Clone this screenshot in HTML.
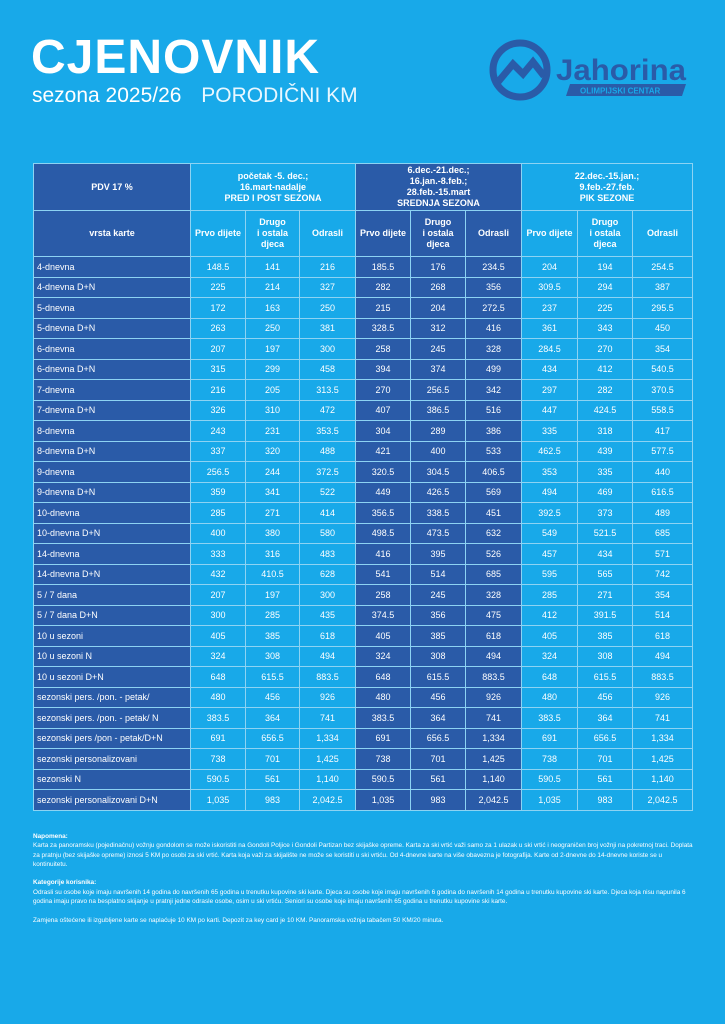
<!DOCTYPE html>
<html><head><meta charset="utf-8"><style>
body{margin:0;width:725px;height:1024px;background:#18a9e9;font-family:"Liberation Sans",sans-serif;color:#fff;position:relative;overflow:hidden}
.t{position:absolute;left:31px;top:32px;font-size:48px;font-weight:bold;letter-spacing:1px;line-height:52px}
.s{position:absolute;left:32px;top:84px;font-size:21px;line-height:24px}
.s span{margin-left:14px;font-weight:300;color:#e8f7ff}
table{position:absolute;left:33px;top:163px;border-collapse:collapse;table-layout:fixed;font-size:9px}
td{border:1px solid #8dd3f3;text-align:center;padding:0;height:19.5px}
td.l{text-align:left;padding-left:3px}
.d{background:#2a5ba8}
.h td{font-weight:bold;line-height:11px}
.n{position:absolute;left:33px;top:832px;width:665px;font-size:6.4px;line-height:9.3px}
</style></head><body>
<div class="t">CJENOVNIK</div>
<div class="s">sezona 2025/26 <span>PORODIČNI KM</span></div>
<svg style="position:absolute;left:488px;top:38px" width="205" height="66" viewBox="0 0 205 66">
<circle cx="32" cy="32" r="27" fill="none" stroke="#2a5ba8" stroke-width="7"/>
<path d="M10 44 L25 26 L35 36 L45 24 L56 38" fill="none" stroke="#2a5ba8" stroke-width="7"/>
<text x="68" y="42" font-family="Liberation Sans" font-weight="bold" font-size="30" fill="#2a5ba8" textLength="130" lengthAdjust="spacingAndGlyphs">Jahorina</text>
<polygon points="82,46 198,46 194,58 78,58" fill="#2a5ba8"/>
<text x="92" y="55.5" font-family="Liberation Sans" font-weight="bold" font-size="8" fill="#18a9e9">OLIMPIJSKI CENTAR</text>
</svg>
<table>
<colgroup><col style="width:157px"><col style="width:55px"><col style="width:54px"><col style="width:56px"><col style="width:55px"><col style="width:55px"><col style="width:56px"><col style="width:56px"><col style="width:55px"><col style="width:60px"></colgroup>
<tr class="h" style="height:47px"><td class="d">PDV 17 %</td><td colspan="3">početak -5. dec.;<br>16.mart-nadalje<br>PRED I POST SEZONA</td><td colspan="3" class="d">6.dec.-21.dec.;<br>16.jan.-8.feb.;<br>28.feb.-15.mart<br>SREDNJA SEZONA</td><td colspan="3">22.dec.-15.jan.;<br>9.feb.-27.feb.<br>PIK SEZONE</td></tr>
<tr class="h" style="height:46px"><td class="d">vrsta karte</td><td>Prvo dijete</td><td>Drugo<br>i ostala<br>djeca</td><td>Odrasli</td><td class="d">Prvo dijete</td><td class="d">Drugo<br>i ostala<br>djeca</td><td class="d">Odrasli</td><td>Prvo dijete</td><td>Drugo<br>i ostala<br>djeca</td><td>Odrasli</td></tr>
<tr><td class="l d">4-dnevna</td><td>148.5</td><td>141</td><td>216</td><td class="d">185.5</td><td class="d">176</td><td class="d">234.5</td><td>204</td><td>194</td><td>254.5</td></tr>
<tr><td class="l d">4-dnevna D+N</td><td>225</td><td>214</td><td>327</td><td class="d">282</td><td class="d">268</td><td class="d">356</td><td>309.5</td><td>294</td><td>387</td></tr>
<tr><td class="l d">5-dnevna</td><td>172</td><td>163</td><td>250</td><td class="d">215</td><td class="d">204</td><td class="d">272.5</td><td>237</td><td>225</td><td>295.5</td></tr>
<tr><td class="l d">5-dnevna D+N</td><td>263</td><td>250</td><td>381</td><td class="d">328.5</td><td class="d">312</td><td class="d">416</td><td>361</td><td>343</td><td>450</td></tr>
<tr><td class="l d">6-dnevna</td><td>207</td><td>197</td><td>300</td><td class="d">258</td><td class="d">245</td><td class="d">328</td><td>284.5</td><td>270</td><td>354</td></tr>
<tr><td class="l d">6-dnevna D+N</td><td>315</td><td>299</td><td>458</td><td class="d">394</td><td class="d">374</td><td class="d">499</td><td>434</td><td>412</td><td>540.5</td></tr>
<tr><td class="l d">7-dnevna</td><td>216</td><td>205</td><td>313.5</td><td class="d">270</td><td class="d">256.5</td><td class="d">342</td><td>297</td><td>282</td><td>370.5</td></tr>
<tr><td class="l d">7-dnevna D+N</td><td>326</td><td>310</td><td>472</td><td class="d">407</td><td class="d">386.5</td><td class="d">516</td><td>447</td><td>424.5</td><td>558.5</td></tr>
<tr><td class="l d">8-dnevna</td><td>243</td><td>231</td><td>353.5</td><td class="d">304</td><td class="d">289</td><td class="d">386</td><td>335</td><td>318</td><td>417</td></tr>
<tr><td class="l d">8-dnevna D+N</td><td>337</td><td>320</td><td>488</td><td class="d">421</td><td class="d">400</td><td class="d">533</td><td>462.5</td><td>439</td><td>577.5</td></tr>
<tr><td class="l d">9-dnevna</td><td>256.5</td><td>244</td><td>372.5</td><td class="d">320.5</td><td class="d">304.5</td><td class="d">406.5</td><td>353</td><td>335</td><td>440</td></tr>
<tr><td class="l d">9-dnevna D+N</td><td>359</td><td>341</td><td>522</td><td class="d">449</td><td class="d">426.5</td><td class="d">569</td><td>494</td><td>469</td><td>616.5</td></tr>
<tr><td class="l d">10-dnevna</td><td>285</td><td>271</td><td>414</td><td class="d">356.5</td><td class="d">338.5</td><td class="d">451</td><td>392.5</td><td>373</td><td>489</td></tr>
<tr><td class="l d">10-dnevna D+N</td><td>400</td><td>380</td><td>580</td><td class="d">498.5</td><td class="d">473.5</td><td class="d">632</td><td>549</td><td>521.5</td><td>685</td></tr>
<tr><td class="l d">14-dnevna</td><td>333</td><td>316</td><td>483</td><td class="d">416</td><td class="d">395</td><td class="d">526</td><td>457</td><td>434</td><td>571</td></tr>
<tr><td class="l d">14-dnevna D+N</td><td>432</td><td>410.5</td><td>628</td><td class="d">541</td><td class="d">514</td><td class="d">685</td><td>595</td><td>565</td><td>742</td></tr>
<tr><td class="l d">5 / 7 dana</td><td>207</td><td>197</td><td>300</td><td class="d">258</td><td class="d">245</td><td class="d">328</td><td>285</td><td>271</td><td>354</td></tr>
<tr><td class="l d">5 / 7 dana D+N</td><td>300</td><td>285</td><td>435</td><td class="d">374.5</td><td class="d">356</td><td class="d">475</td><td>412</td><td>391.5</td><td>514</td></tr>
<tr><td class="l d">10 u sezoni</td><td>405</td><td>385</td><td>618</td><td class="d">405</td><td class="d">385</td><td class="d">618</td><td>405</td><td>385</td><td>618</td></tr>
<tr><td class="l d">10 u sezoni N</td><td>324</td><td>308</td><td>494</td><td class="d">324</td><td class="d">308</td><td class="d">494</td><td>324</td><td>308</td><td>494</td></tr>
<tr><td class="l d">10 u sezoni D+N</td><td>648</td><td>615.5</td><td>883.5</td><td class="d">648</td><td class="d">615.5</td><td class="d">883.5</td><td>648</td><td>615.5</td><td>883.5</td></tr>
<tr><td class="l d">sezonski pers. /pon. - petak/</td><td>480</td><td>456</td><td>926</td><td class="d">480</td><td class="d">456</td><td class="d">926</td><td>480</td><td>456</td><td>926</td></tr>
<tr><td class="l d">sezonski pers. /pon. - petak/ N</td><td>383.5</td><td>364</td><td>741</td><td class="d">383.5</td><td class="d">364</td><td class="d">741</td><td>383.5</td><td>364</td><td>741</td></tr>
<tr><td class="l d">sezonski pers /pon - petak/D+N</td><td>691</td><td>656.5</td><td>1,334</td><td class="d">691</td><td class="d">656.5</td><td class="d">1,334</td><td>691</td><td>656.5</td><td>1,334</td></tr>
<tr><td class="l d">sezonski personalizovani</td><td>738</td><td>701</td><td>1,425</td><td class="d">738</td><td class="d">701</td><td class="d">1,425</td><td>738</td><td>701</td><td>1,425</td></tr>
<tr><td class="l d">sezonski N</td><td>590.5</td><td>561</td><td>1,140</td><td class="d">590.5</td><td class="d">561</td><td class="d">1,140</td><td>590.5</td><td>561</td><td>1,140</td></tr>
<tr><td class="l d">sezonski personalizovani D+N</td><td>1,035</td><td>983</td><td>2,042.5</td><td class="d">1,035</td><td class="d">983</td><td class="d">2,042.5</td><td>1,035</td><td>983</td><td>2,042.5</td></tr>
</table>
<div class="n"><b>Napomena:</b><br>Karta za panoramsku (pojedinačnu) vožnju gondolom se može iskoristiti na Gondoli Poljice i Gondoli Partizan bez skijaške opreme. Karta za ski vrtić važi samo za 1 ulazak u ski vrtić i neograničen broj vožnji na pokretnoj traci. Doplata za pratnju (bez skijaške opreme) iznosi 5 KM po osobi za ski vrtić. Karta koja važi za skijalište ne može se koristiti u ski vrtiću. Od 4-dnevne karte na više obavezna je fotografija. Karte od 2-dnevne do 14-dnevne koriste se u kontinuitetu.<br><br><b>Kategorije korisnika:</b><br>Odrasli su osobe koje imaju navršenih 14 godina do navršenih 65 godina u trenutku kupovine ski karte. Djeca su osobe koje imaju navršenih 6 godina do navršenih 14 godina u trenutku kupovine ski karte. Djeca koja nisu napunila 6 godina imaju pravo na besplatno skijanje u pratnji jedne odrasle osobe, osim u ski vrtiću. Seniori su osobe koje imaju navršenih 65 godina u trenutku kupovine ski karte.<br><br>Zamjena oštećene ili izgubljene karte se naplaćuje 10 KM po karti. Depozit za key card je 10 KM. Panoramska vožnja tabačem 50 KM/20 minuta.</div>
</body></html>
